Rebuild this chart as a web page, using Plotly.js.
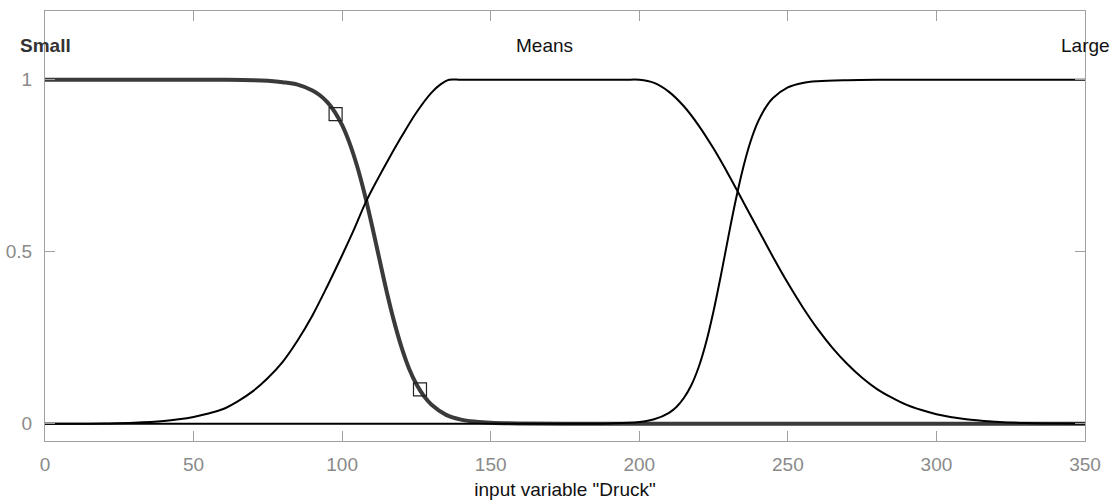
<!DOCTYPE html>
<html>
<head>
<meta charset="utf-8">
<script src="https://cdn.plot.ly/plotly-3.0.1.min.js"></script>
<style>
  html, body { margin: 0; padding: 0; background: #fff; }
  #chart { width: 1115px; height: 501px; }
</style>
</head>
<body>
<div id="chart"></div>
<script>
// Membership functions of the input variable "Druck"
const smallX = [0, 40, 60, 70, 75, 80, 85, 90, 92.5, 95, 97.5, 100, 102.5, 105, 107.5, 110, 112, 115, 117.5, 120, 122.5, 125, 127.5, 130, 135, 140, 145, 150, 160, 175, 200, 350];
const smallY = [1, 1, 1, 0.999, 0.997, 0.993, 0.986, 0.969, 0.955, 0.935, 0.907, 0.868, 0.816, 0.750, 0.670, 0.578, 0.500, 0.384, 0.297, 0.222, 0.161, 0.115, 0.081, 0.056, 0.026, 0.012, 0.006, 0.003, 0.001, 0, 0, 0];

const meansX = [0, 10, 20, 30, 40, 45, 50, 55, 60, 65, 70, 75, 80, 85, 90, 95, 100, 104, 108, 112, 116, 120, 125, 130, 133, 136, 140, 150, 168, 185, 195, 200, 205, 210, 215, 220, 225, 230, 235, 240, 245, 250, 255, 260, 265, 270, 275, 280, 285, 290, 295, 300, 310, 320, 330, 340, 350];
const meansY = [0, 0, 0.001, 0.003, 0.008, 0.013, 0.020, 0.030, 0.043, 0.066, 0.095, 0.133, 0.180, 0.242, 0.315, 0.400, 0.490, 0.565, 0.645, 0.712, 0.775, 0.835, 0.905, 0.962, 0.986, 1, 1, 1, 1, 1, 1, 1, 0.991, 0.965, 0.923, 0.867, 0.800, 0.725, 0.645, 0.565, 0.485, 0.409, 0.339, 0.276, 0.221, 0.174, 0.134, 0.101, 0.076, 0.055, 0.040, 0.028, 0.013, 0.006, 0.002, 0.001, 0];

const largeX = [0, 150, 190, 200, 205, 210, 212.5, 215, 217.5, 220, 222.5, 225, 227.5, 230, 232.5, 235, 237.5, 240, 242.5, 245, 250, 255, 260, 270, 280, 350];
const largeY = [0, 0, 0.001, 0.005, 0.013, 0.032, 0.049, 0.075, 0.112, 0.165, 0.237, 0.328, 0.433, 0.545, 0.652, 0.746, 0.822, 0.879, 0.919, 0.947, 0.978, 0.991, 0.996, 0.999, 1, 1];

// Handles on the selected function
const handleX = [97.8, 126.2];
const handleY = [0.9, 0.1];

// Function names and where they sit
const mfNames = ['Small', 'Means', 'Large'];
const mfLabelX = [0, 168, 350];
const mfLabelY = 1.1;
const selectedMf = 'Small';

const xTicks = [0, 50, 100, 150, 200, 250, 300, 350];
const yTicks = [0, 0.5, 1];
const yTickText = ['0', '0.5', '1'];

const FONT = 'Liberation Sans, Arial, Helvetica, sans-serif';

const traces = [
  {
    x: smallX, y: smallY, type: 'scatter', mode: 'lines',
    line: { color: '#3a3a3a', width: 4, shape: 'spline', smoothing: 1 },
    hoverinfo: 'skip'
  },
  {
    x: meansX, y: meansY, type: 'scatter', mode: 'lines',
    line: { color: '#000', width: 2, shape: 'spline', smoothing: 1 },
    hoverinfo: 'skip'
  },
  {
    x: largeX, y: largeY, type: 'scatter', mode: 'lines',
    line: { color: '#000', width: 2, shape: 'spline', smoothing: 1 },
    hoverinfo: 'skip'
  },
  {
    x: handleX, y: handleY, type: 'scatter', mode: 'markers',
    marker: { symbol: 'square-open', size: 13, color: '#222', line: { width: 1.2 } },
    hoverinfo: 'skip'
  }
];

const annotations = mfNames.map((name, i) => ({
  x: mfLabelX[i], y: mfLabelY, xref: 'x', yref: 'y',
  text: name === selectedMf ? '<b>' + name + '</b>' : name,
  showarrow: false, xanchor: 'center', yanchor: 'middle',
  font: { family: FONT, size: 19, color: name === selectedMf ? '#333' : '#111' }
}));

const axisCommon = {
  showgrid: false, zeroline: false,
  showline: true, linecolor: '#a0a0a0', linewidth: 1, mirror: 'ticks',
  ticks: 'inside', ticklen: 10, tickcolor: '#a0a0a0', tickwidth: 1,
  tickfont: { family: FONT, size: 19, color: '#8a8a8a' }
};

const layout = {
  width: 1115, height: 501,
  margin: { l: 45, r: 30, t: 11, b: 60 },
  paper_bgcolor: '#fff', plot_bgcolor: '#fff',
  showlegend: false,
  xaxis: Object.assign({}, axisCommon, {
    range: [0, 350], tickvals: xTicks, ticklabelstandoff: 6,
    title: { text: 'input variable "Druck"', font: { family: FONT, size: 19, color: '#111' }, standoff: 8 }
  }),
  yaxis: Object.assign({}, axisCommon, {
    range: [-0.05, 1.2], tickvals: yTicks, ticktext: yTickText, ticklabelstandoff: 8
  }),
  annotations: annotations
};

Plotly.newPlot('chart', traces, layout, { staticPlot: true, displayModeBar: false });
</script>
</body>
</html>
